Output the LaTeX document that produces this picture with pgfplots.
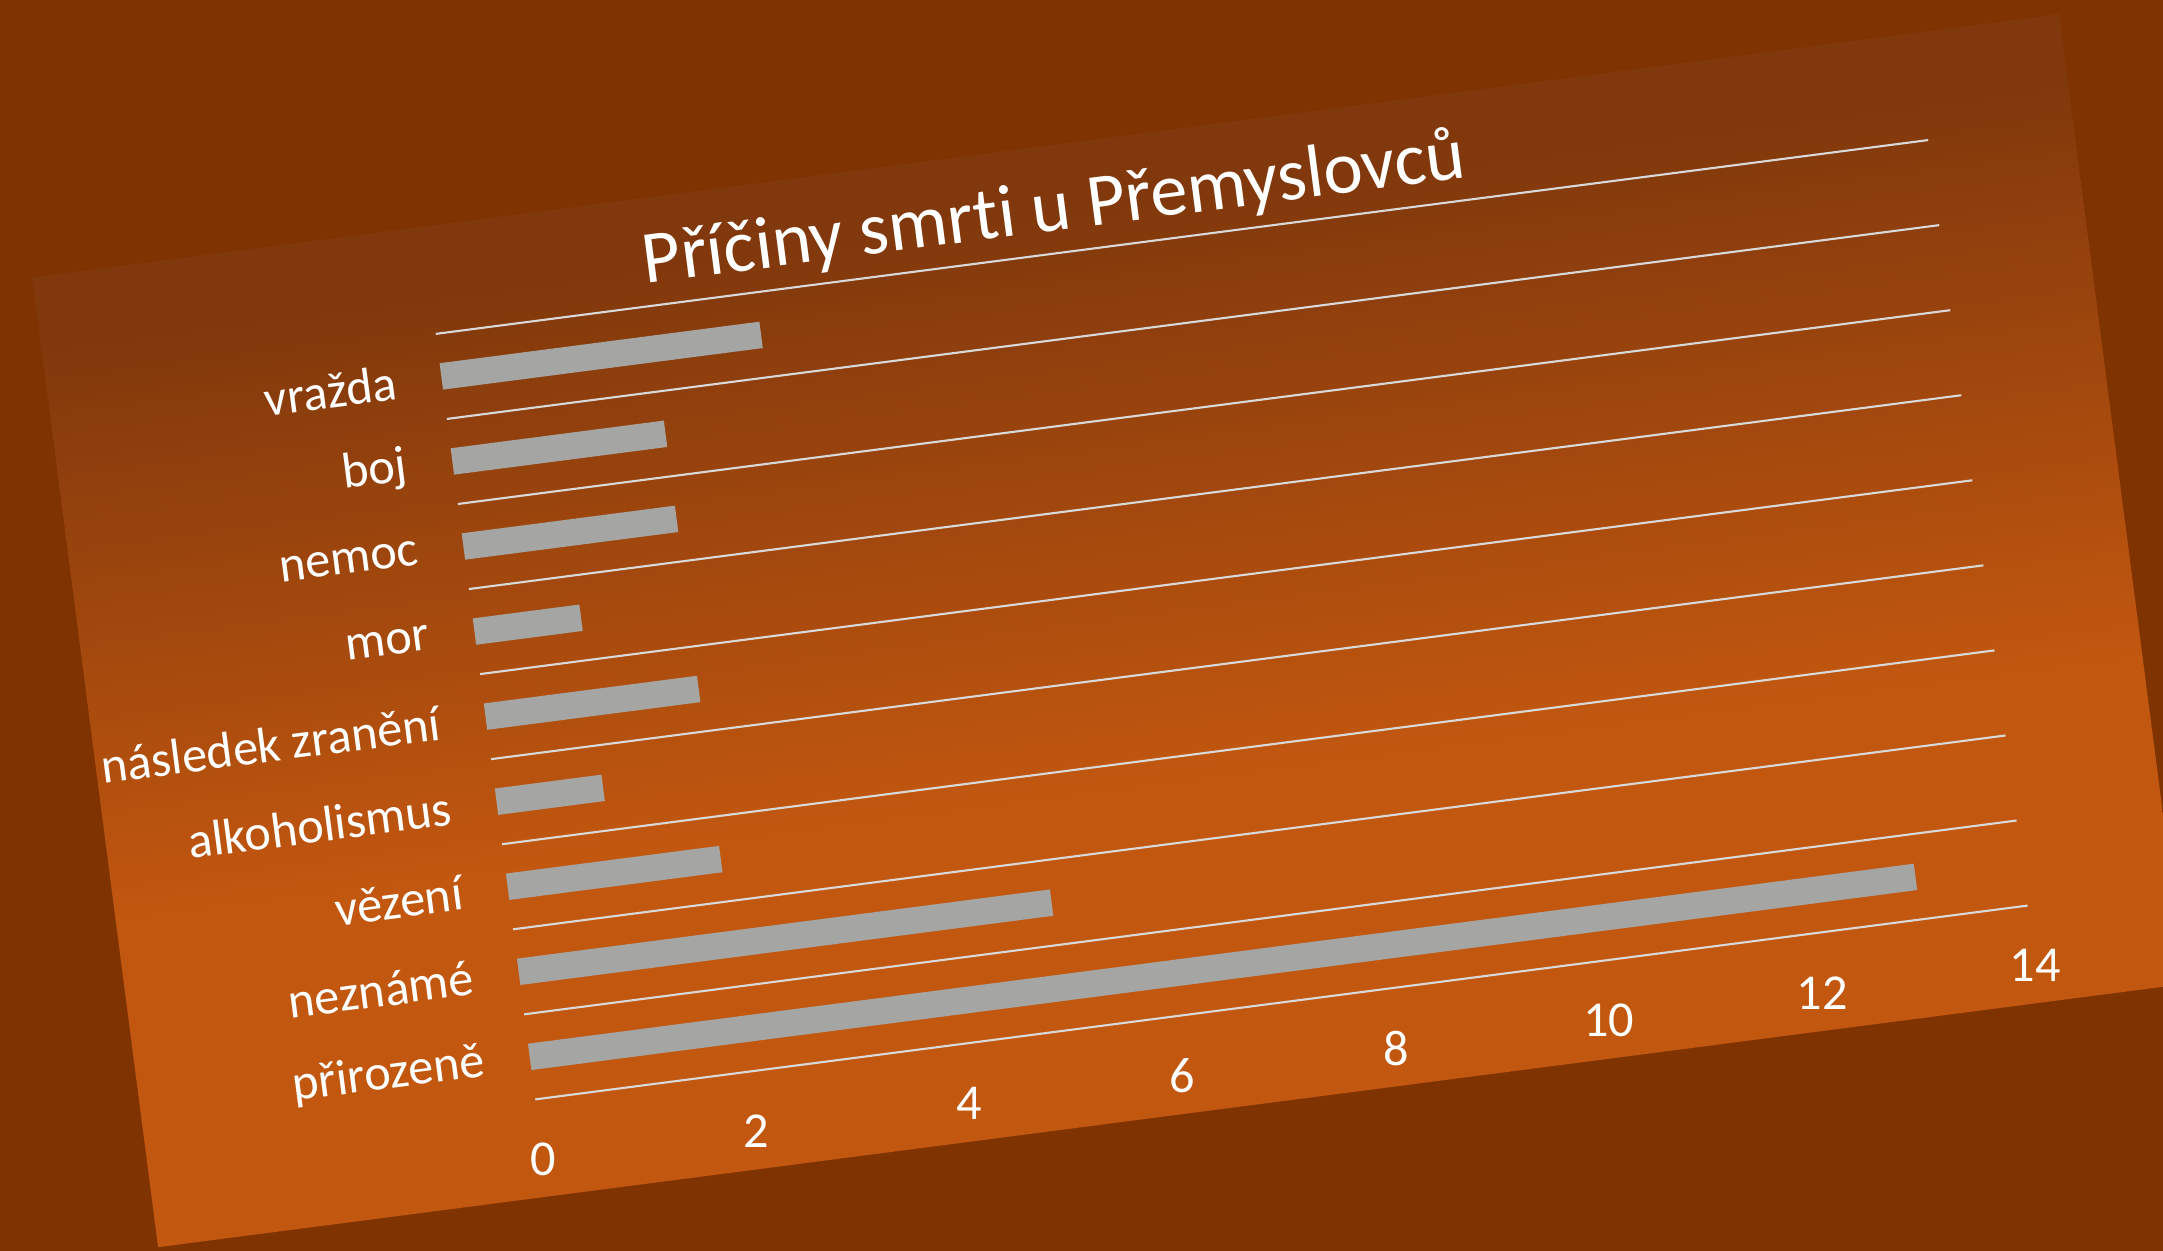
\documentclass[border=0pt]{standalone}
\usepackage{fontspec}
\setmainfont{Carlito}[Ligatures={NoCommon}]
\usepackage{pgfplots}
\pgfplotsset{compat=1.18}
\definecolor{bgc}{HTML}{7F3300}
\definecolor{ptop}{HTML}{80380C}
\definecolor{pbot}{HTML}{C2570F}
\definecolor{barc}{HTML}{A5A5A3}
\definecolor{gridc}{HTML}{D9D9D9}
\pgfdeclareverticalshading{panelsh}{100bp}{color(0bp)=(pbot); color(44bp)=(pbot); color(66bp)=(ptop); color(100bp)=(ptop)}
\begin{document}
\begin{tikzpicture}
\path[use as bounding box] (0,0) rectangle (21.63,12.51);
\clip (0,0) rectangle (21.63,12.51);
\fill[bgc] (0,0) rectangle (21.63,12.51);
\begin{scope}[shift={(5.352,1.516)}, rotate=7.4, transform shape]
\shade[shading=panelsh, shading angle=7.4] (-3.93,-0.98) rectangle (16.51,8.80);
\begin{axis}[
  at={(0,0)}, anchor=south west,
  scale only axis, width=15.05cm, height=7.72cm,
  xmin=0, xmax=14, ymin=-0.5, ymax=8.5,
  xtick={0,2,...,14},
  ytick={0,...,8},
  yticklabels={přirozeně, neznámé, vězení, alkoholismus, následek zranění, mor, nemoc, boj, vražda},
  minor ytick={-0.5,0.5,...,8.5},
  yminorgrids=true,
  minor grid style={gridc, line width=0.6pt},
  major tick length=0pt, minor tick length=0pt,
  axis line style={draw=none},
  /pgf/number format/assume math mode=true,
  xticklabel style={font=\fontsize{14.3}{16}\selectfont, text=white, anchor=center, yshift=-0.6cm, rotate=-7.4},
  yticklabel style={font=\fontsize{14.3}{16}\selectfont, text=white, anchor=east, inner sep=0pt, xshift=-0.45cm},
  title={Příčiny smrti u Přemyslovců},
  title style={font=\fontsize{21.2}{25}\selectfont, text=white, at={(0.418,1)}, anchor=center, yshift=0.22cm},
]
\addplot[xbar, fill=barc, draw=none, bar width=0.31] coordinates {(13,0) (5,1) (2,2) (1,3) (2,4) (1,5) (2,6) (2,7) (3,8)};
\end{axis}
\end{scope}
\end{tikzpicture}
\end{document}
